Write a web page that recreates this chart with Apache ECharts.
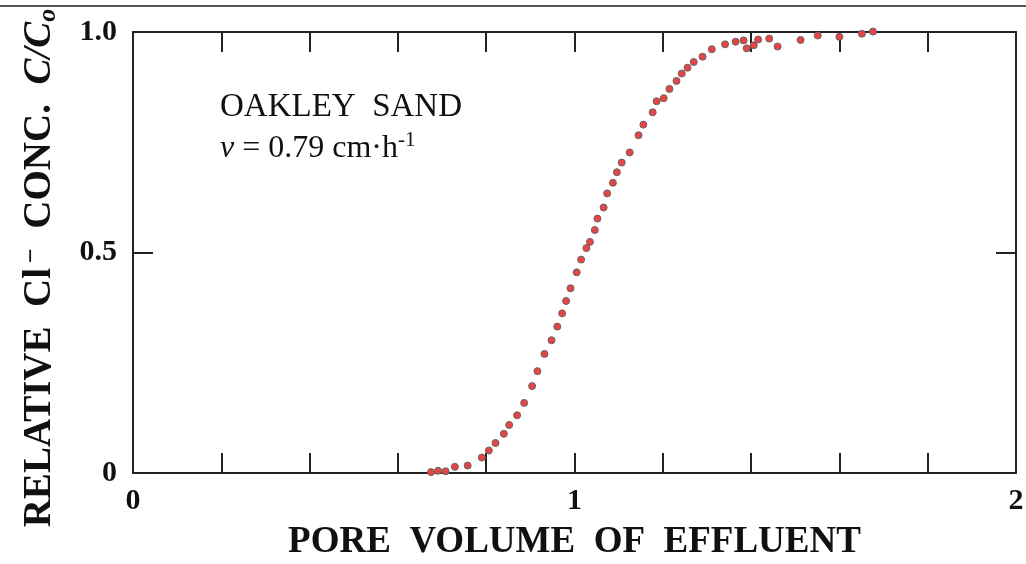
<!DOCTYPE html>
<html>
<head>
<meta charset="utf-8">
<script src="https://cdn.jsdelivr.net/npm/echarts@6/dist/echarts.min.js"></script>
<style>
html,body{margin:0;padding:0;background:#fff;}
#chart{width:1026px;height:564px;}
</style>
</head>
<body>
<div id="chart"></div>
<script>
// Pore volume of effluent (x) and relative Cl- concentration C/Co (y)
var poreVolume = [0.675,0.691,0.708,0.729,0.758,0.790,0.806,0.821,0.840,0.852,0.870,0.886,0.904,0.916,0.932,0.948,0.961,0.972,0.981,0.991,1.005,1.015,1.027,1.035,1.046,1.052,1.066,1.074,1.087,1.096,1.107,1.125,1.145,1.156,1.177,1.186,1.202,1.215,1.231,1.243,1.256,1.270,1.290,1.311,1.341,1.365,1.383,1.390,1.406,1.416,1.441,1.460,1.512,1.551,1.600,1.651,1.676];
var relConc = [0.002,0.005,0.004,0.014,0.017,0.035,0.051,0.068,0.089,0.109,0.131,0.159,0.197,0.231,0.270,0.301,0.332,0.362,0.390,0.419,0.455,0.484,0.510,0.524,0.551,0.577,0.602,0.634,0.658,0.682,0.704,0.727,0.766,0.790,0.818,0.843,0.850,0.871,0.889,0.906,0.919,0.932,0.944,0.961,0.972,0.978,0.981,0.963,0.970,0.983,0.985,0.967,0.982,0.992,0.989,0.996,1.001];
var xTickLabels = {0:'0', 1:'1', 2:'2'};
var yTickLabels = {0:'0', 0.5:'0.5', 1:'1.0'};

var points = poreVolume.map(function(x,i){ return [x, relConc[i]]; });

var serif = 'Liberation Serif';
var axisLineStyle = {color:'#222', width:2};
var chart = echarts.init(document.getElementById('chart'));
chart.setOption({
  animation:false,
  backgroundColor:'#fff',
  grid:{left:133, right:10, top:32, bottom:91, outerBoundsMode:'none', containLabel:false},
  xAxis:[{
    type:'value', min:0, max:2, interval:0.2, position:'bottom',
    axisLine:{show:true, onZero:false, lineStyle:axisLineStyle},
    axisTick:{show:true, inside:true, length:20, lineStyle:axisLineStyle},
    splitLine:{show:false},
    axisLabel:{
      margin:13, color:'#111', fontFamily:serif, fontWeight:'bold', fontSize:30,
      formatter:function(v){ var k=Math.round(v*10)/10; return xTickLabels.hasOwnProperty(k)?xTickLabels[k]:''; }
    },
    name:'PORE  VOLUME  OF  EFFLUENT', nameLocation:'middle', nameGap:51,
    nameTextStyle:{color:'#111', fontFamily:serif, fontWeight:'bold', fontSize:37}
  },{
    type:'value', min:0, max:2, interval:0.2, position:'top',
    axisLine:{show:true, onZero:false, lineStyle:axisLineStyle},
    axisTick:{show:true, inside:true, length:20, lineStyle:axisLineStyle},
    splitLine:{show:false}, axisLabel:{show:false}
  }],
  yAxis:[{
    type:'value', min:0, max:1, interval:0.5, position:'left',
    axisLine:{show:true, onZero:false, lineStyle:axisLineStyle},
    axisTick:{show:true, inside:true, length:20, lineStyle:axisLineStyle},
    splitLine:{show:false},
    axisLabel:{
      margin:16, color:'#111', fontFamily:serif, fontWeight:'bold', fontSize:30,
      formatter:function(v){ var k=Math.round(v*10)/10; return yTickLabels.hasOwnProperty(k)?yTickLabels[k]:''; }
    }
  },{
    type:'value', min:0, max:1, interval:0.5, position:'right',
    axisLine:{show:true, onZero:false, lineStyle:axisLineStyle},
    axisTick:{show:true, inside:true, length:20, lineStyle:axisLineStyle},
    splitLine:{show:false}, axisLabel:{show:false}
  }],
  graphic:[
    {type:'line', shape:{x1:0,y1:6,x2:1026,y2:6}, style:{stroke:'#555', lineWidth:2}, silent:true},
    {type:'text', x:40, y:268, rotation:Math.PI/2,
      style:{
        text:'{b|RELATIVE  Cl}{sup|−}{b|  CONC.  }{bi|C/C}{sub|o}',
        textAlign:'center', textVerticalAlign:'middle',
        rich:{
          b:{fontFamily:serif, fontWeight:'bold', fontSize:39, fill:'#111', lineHeight:42, verticalAlign:'middle'},
          bi:{fontFamily:serif, fontWeight:'bold', fontStyle:'italic', fontSize:39, fill:'#111', lineHeight:42, verticalAlign:'middle'},
          sup:{fontFamily:serif, fontWeight:'bold', fontSize:26, fill:'#111', lineHeight:42, verticalAlign:'top', padding:[0,0,0,5]},
          sub:{fontFamily:serif, fontWeight:'bold', fontStyle:'italic', fontSize:26, fill:'#111', lineHeight:42, verticalAlign:'bottom'}
        }
      }},
    {type:'text', left:220, top:91,
      style:{text:'OAKLEY  SAND', fontFamily:serif, fontSize:33, fill:'#111'}},
    {type:'text', left:220, top:130,
      style:{
        text:'{i|v}{n| = 0.79 cm·h}{sup|-1}',
        rich:{
          i:{fontFamily:serif, fontStyle:'italic', fontSize:32, fill:'#111', lineHeight:35, verticalAlign:'bottom'},
          n:{fontFamily:serif, fontSize:32, fill:'#111', lineHeight:35, verticalAlign:'bottom'},
          sup:{fontFamily:serif, fontSize:21, fill:'#111', lineHeight:35, verticalAlign:'top'}
        }
      }}
  ],
  series:[{
    type:'scatter', xAxisIndex:0, yAxisIndex:0, clip:false,
    data:points, symbol:'circle', symbolSize:7,
    itemStyle:{color:'#e84444', borderColor:'#666', borderWidth:1, opacity:1}
  }]
});
</script>
</body>
</html>
